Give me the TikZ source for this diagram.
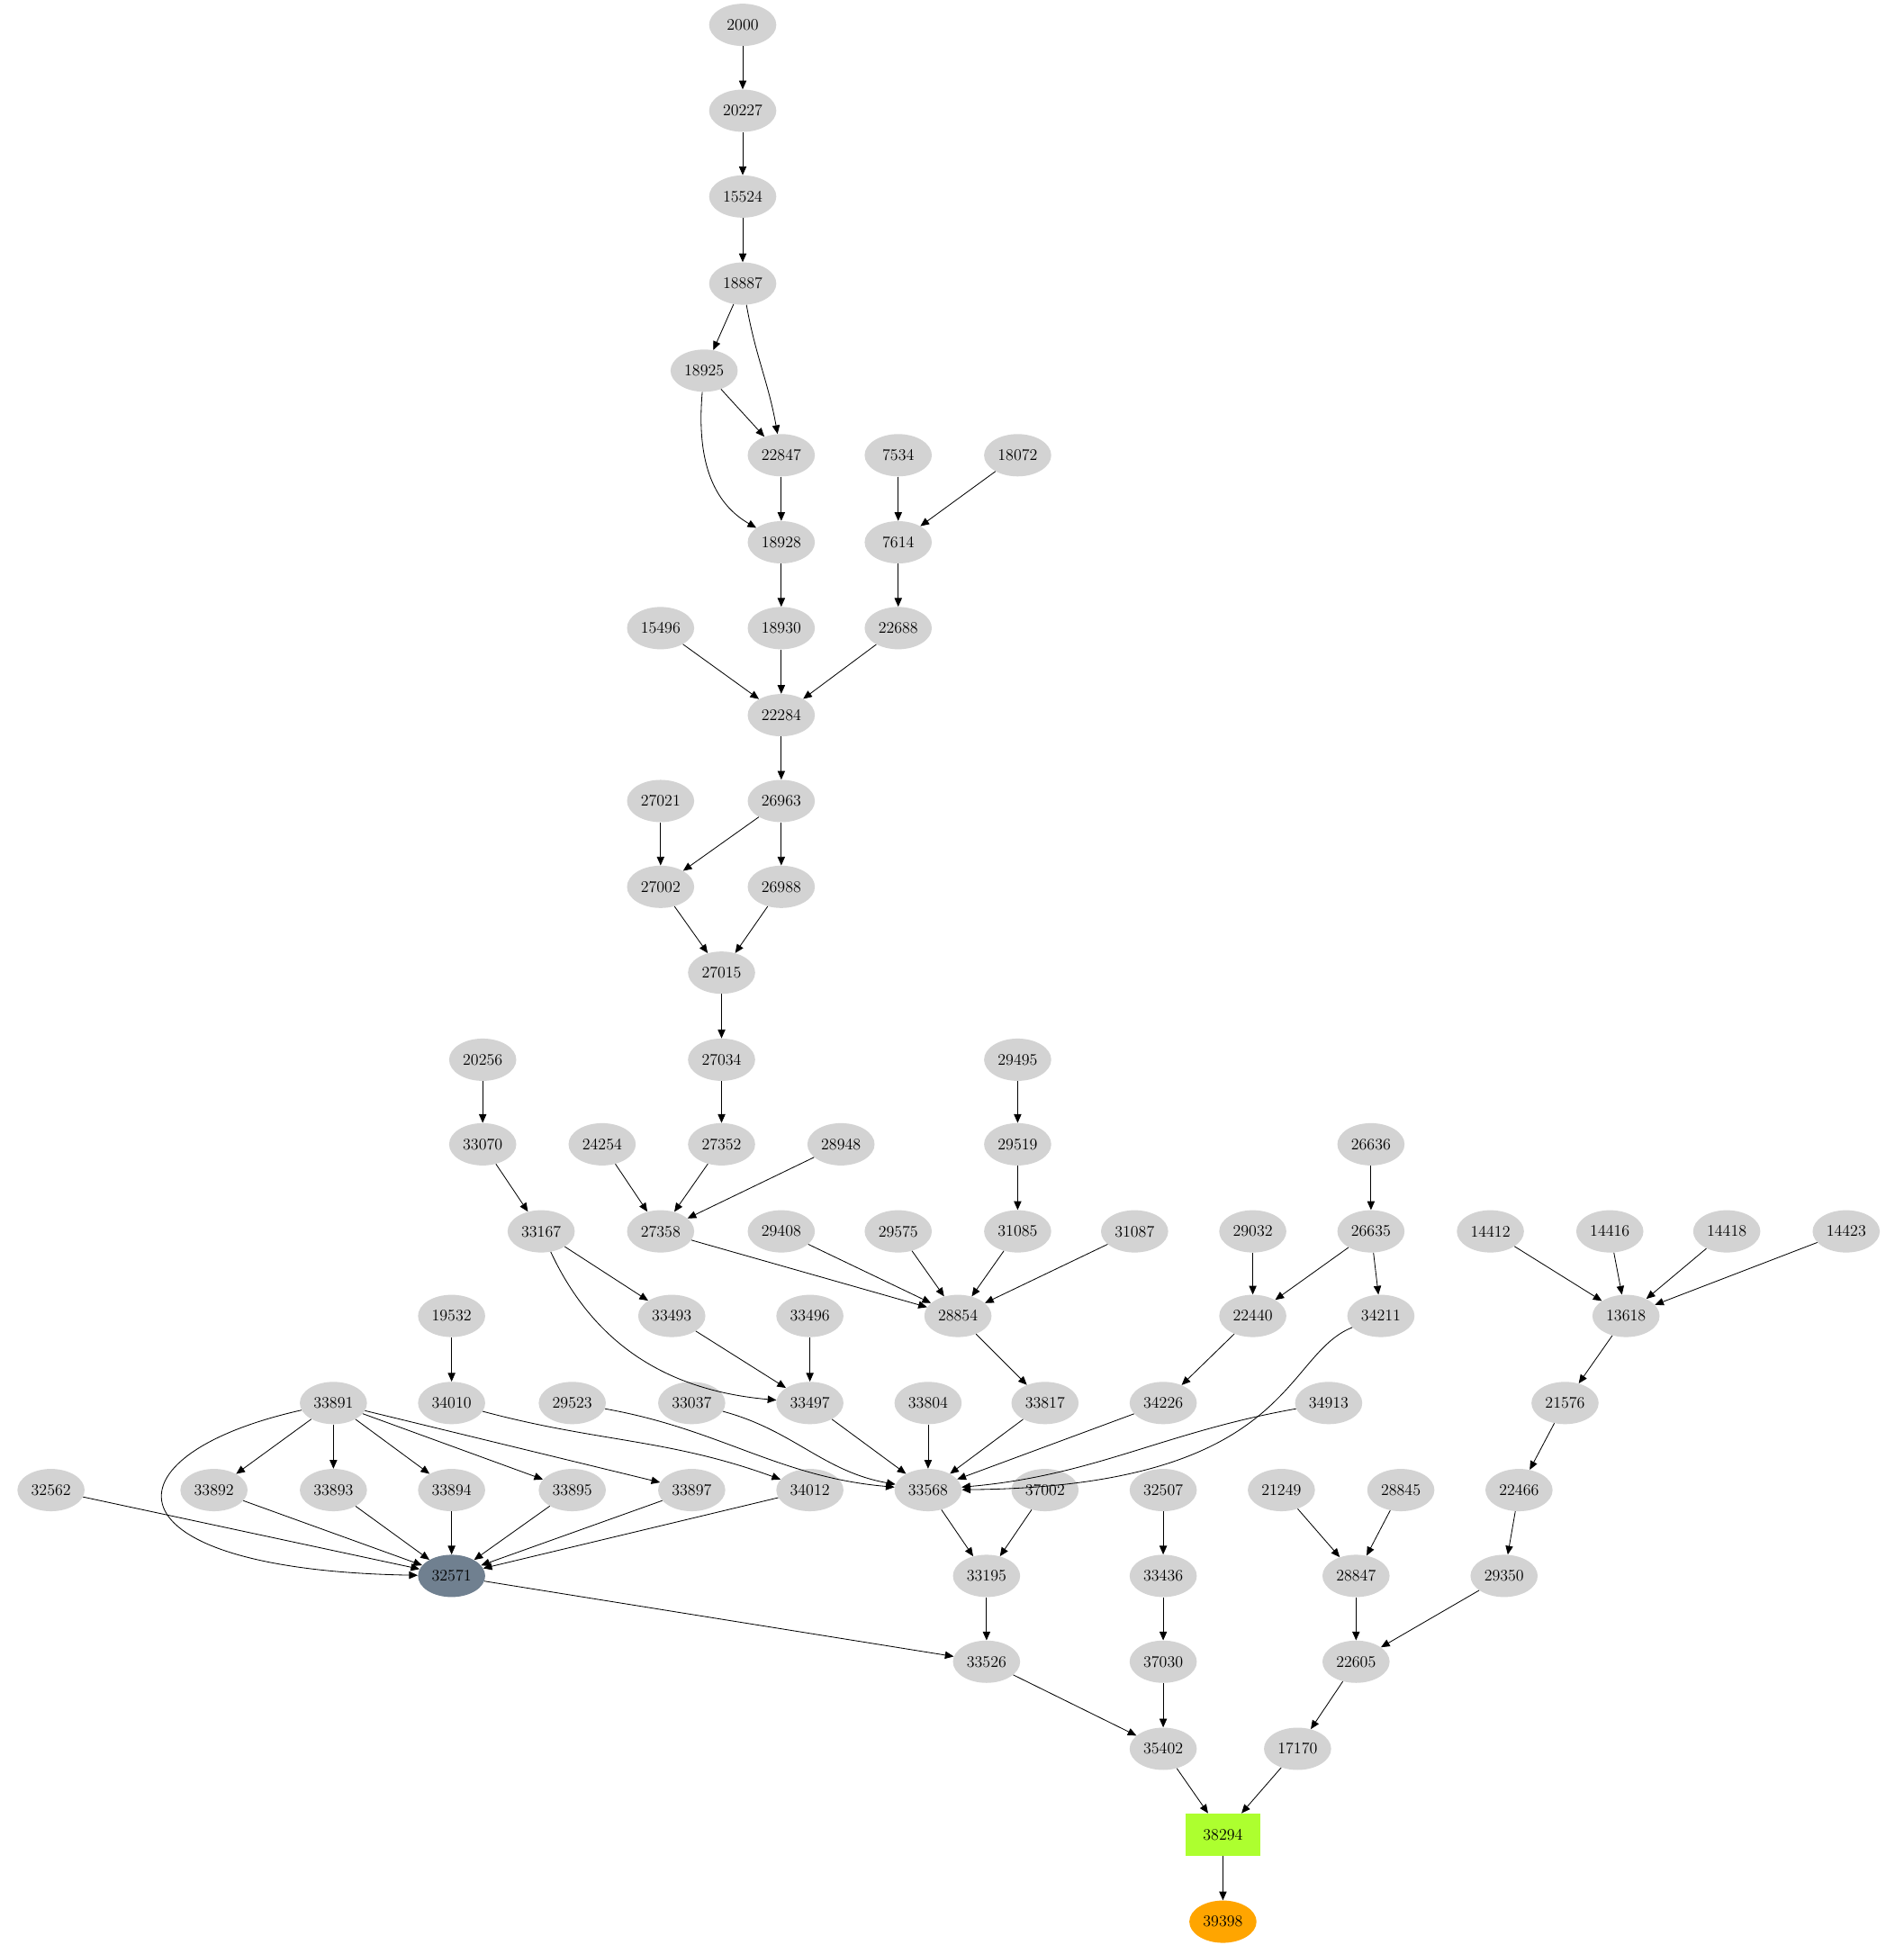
\documentclass[tikz,border=0pt]{standalone}
\usetikzlibrary{arrows.meta,shapes.geometric}
\begin{document}
\begin{tikzpicture}[x=1pt,y=-1pt,
 nd/.style={ellipse,fill=lightgray,minimum width=54pt,minimum height=34pt,inner sep=1pt,font=\fontsize{13}{14}\selectfont},
 ed/.style={-{Triangle[length=7pt,width=6pt]},black,line width=0.6pt}]
\definecolor{lightgray}{HTML}{D3D3D3}
\definecolor{slate}{HTML}{708090}
\definecolor{gy}{HTML}{ADFF2F}
\definecolor{org}{HTML}{FFA500}
\useasboundingbox (0,0) rectangle (1530,1571);
\foreach \n/\x/\y in {2000/597/20,20227/597/89,15524/597/158,18887/597/228,18925/566/298,22847/628/366,7534/722/366,18072/818/366,18928/628/436,7614/722/436,15496/531/505,18930/628/505,22688/722/505,22284/628/575,27021/531/644,26963/628/644,27002/531/713,26988/628/713,27015/580/782,20256/388/852,27034/580/852,29495/818/852,33070/388/920,24254/484/920,27352/580/920,28948/676/920,29519/818/920,26636/1102/920,33167/435/990,27358/531/990,29408/628/990,29575/722/990,31085/818/990,31087/912/990,29032/1007/990,26635/1102/990,14412/1198/990,14416/1294/990,14418/1388/990,14423/1484/990,19532/363/1058,33493/540/1058,33496/651/1058,28854/770/1058,22440/1007/1058,34211/1110/1058,13618/1307/1058,33891/268/1128,34010/363/1128,29523/460/1128,33037/556/1128,33497/651/1128,33804/746/1128,33817/840/1128,34226/935/1128,34913/1068/1128,21576/1258/1128,32562/41/1198,33892/172/1198,33893/268/1198,33894/363/1198,33895/460/1198,33897/556/1198,34012/651/1198,33568/746/1198,37002/840/1198,32507/935/1198,21249/1030/1198,28845/1126/1198,22466/1221/1198,33195/793/1267,33436/935/1267,28847/1090/1267,29350/1209/1267,33526/793/1336,37030/935/1336,22605/1090/1336,35402/935/1406,17170/1043/1406}
  \node[nd] (n\n) at (\x,\y) {\n};
\node[nd,fill=slate] (n32571) at (363,1267) {32571};
\node[nd,fill=gy,shape=rectangle,minimum width=60pt] (n38294) at (983,1475) {38294};
\node[nd,fill=org] (n39398) at (983,1545) {39398};
\foreach \a/\b in {2000/20227,20227/15524,15524/18887,18887/18925,18925/22847,22847/18928,7534/7614,18072/7614,18928/18930,7614/22688,15496/22284,18930/22284,22688/22284,22284/26963,27021/27002,26963/27002,26963/26988,27002/27015,26988/27015,27015/27034,20256/33070,27034/27352,29495/29519,33070/33167,24254/27358,27352/27358,28948/27358,29519/31085,26636/26635,33167/33493,27358/28854,29408/28854,29575/28854,31085/28854,31087/28854,29032/22440,26635/22440,26635/34211,14412/13618,14416/13618,14418/13618,14423/13618,19532/34010,33493/33497,33496/33497,28854/33817,22440/34226,13618/21576,33891/33892,33891/33893,33891/33894,33891/33895,33891/33897,33497/33568,33804/33568,33817/33568,34226/33568,21576/22466,32562/32571,33892/32571,33893/32571,33894/32571,33895/32571,33897/32571,34012/32571,33568/33195,37002/33195,32507/33436,21249/28847,28845/28847,22466/29350,32571/33526,33195/33526,33436/37030,28847/22605,29350/22605,33526/35402,37030/35402,22605/17170,35402/38294,17170/38294,38294/39398}
  \draw[ed] (n\a) -- (n\b);
\draw[ed] (n18887) to[out=-80,in=100] (n22847);
\draw[ed] (n18925) to[out=-95,in=150] (n18928);
\draw[ed] (n33167) to[out=-65,in=175] (n33497);
\draw[ed] (n33891) .. controls (80,1170) and (80,1262) .. (n32571);
\draw[ed] (n34010) to[out=-15,in=160] (n34012);
\draw[ed] (n29523) to[out=-10,in=175] (n33568);
\draw[ed] (n33037) to[out=-15,in=170] (n33568);
\draw[ed] (n34211) .. controls (1030,1090) and (1040,1195) .. (n33568);
\draw[ed] (n34913) to[out=-170,in=5] (n33568);
\end{tikzpicture}
\end{document}
